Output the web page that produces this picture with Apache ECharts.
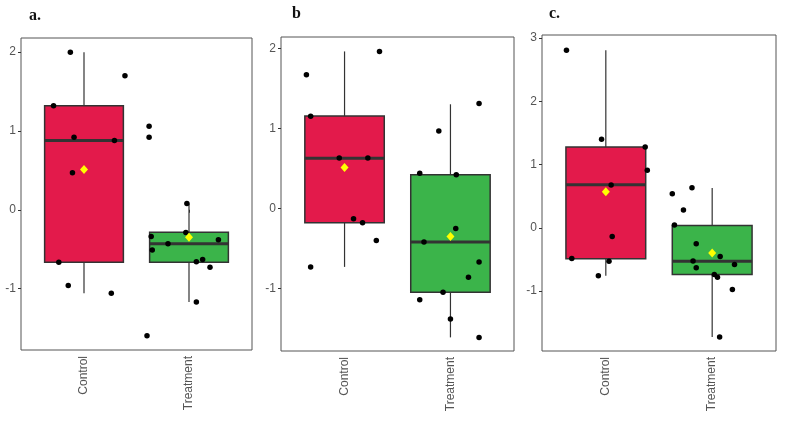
<!DOCTYPE html>
<html>
<head>
<meta charset="utf-8">
<script src="https://cdn.jsdelivr.net/npm/echarts@6/dist/echarts.min.js"></script>
<style>
  html, body { margin: 0; padding: 0; background: #fff; }
  #chart { width: 786px; height: 421px; }
</style>
</head>
<body>
<div id="chart"></div>
<script>
const categories = ['Control', 'Treatment'];
const panelLabels = ['a.', 'b', 'c.'];

// box stats per group: [lower whisker, Q1, median, Q3, upper whisker]
const boxA = [[-1.06, -0.665, 0.88, 1.32, 2.0], [-1.17, -0.665, -0.43, -0.285, 0.08]];
const boxB = [[-0.73, -0.18, 0.625, 1.153, 1.96], [-1.61, -1.045, -0.42, 0.42, 1.30]];
const boxC = [[-0.76, -0.49, 0.68, 1.276, 2.81], [-1.73, -0.738, -0.53, 0.037, 0.63]];

// group means (yellow diamonds)
const meanA = [0.51, -0.35];
const meanB = [0.51, -0.35];
const meanC = [0.57, -0.40];

// raw observations and their horizontal jitter (category units)
const ctrlA = [2.0, 1.70, 1.32, 0.92, 0.88, 0.47, -0.665, -0.96, -1.06];
const ctrlAJit = [-0.13, 0.39, -0.29, -0.095, 0.29, -0.11, -0.24, -0.15, 0.26];
const trtA = [1.06, 0.92, 0.08, -0.29, -0.34, -0.38, -0.43, -0.51, -0.63, -0.66, -0.73, -1.17, -1.60];
const trtAJit = [-0.38, -0.38, -0.02, -0.03, -0.36, 0.28, -0.20, -0.35, 0.13, 0.07, 0.20, 0.07, -0.40];

const ctrlB = [1.96, 1.67, 1.15, 0.63, 0.63, -0.13, -0.18, -0.40, -0.73];
const ctrlBJit = [0.33, -0.36, -0.32, -0.05, 0.22, 0.085, 0.17, 0.30, -0.32];
const trtB = [1.31, 0.965, 0.44, 0.42, -0.25, -0.42, -0.67, -0.86, -1.045, -1.14, -1.38, -1.61];
const trtBJit = [0.27, -0.11, -0.29, 0.055, 0.05, -0.25, 0.27, 0.17, -0.07, -0.29, 0.0, 0.27];

const ctrlC = [2.81, 1.40, 1.276, 0.91, 0.675, -0.137, -0.485, -0.53, -0.76];
const ctrlCJit = [-0.37, -0.04, 0.37, 0.39, 0.05, 0.06, -0.32, 0.03, -0.07];
const trtC = [0.633, 0.54, 0.28, 0.042, -0.253, -0.453, -0.527, -0.58, -0.633, -0.738, -0.785, -0.975, -1.73];
const trtCJit = [-0.19, -0.375, -0.27, -0.355, -0.15, 0.075, -0.18, 0.21, -0.15, 0.02, 0.05, 0.19, 0.07];

const yRanges = [[-1.78, 2.18], [-1.78, 2.14], [-1.95, 3.05]];
const yTicks = [[-1, 0, 1, 2], [-1, 0, 1, 2], [-1, 0, 1, 2, 3]];

const panels = [
  { box: boxA, mean: meanA, groups: [[ctrlA, ctrlAJit], [trtA, trtAJit]] },
  { box: boxB, mean: meanB, groups: [[ctrlB, ctrlBJit], [trtB, trtBJit]] },
  { box: boxC, mean: meanC, groups: [[ctrlC, ctrlCJit], [trtC, trtCJit]] }
];

const grids = [
  { left: 21, top: 38, width: 231, height: 312 },
  { left: 281, top: 37, width: 233, height: 314 },
  { left: 542, top: 35, width: 234, height: 316 }
];
const labelPos = [[29, 8], [292, 6], [549, 6]];

const boxColors = ['#e31a4b', '#3bb44a'];
const textGrey = '#555';

const chart = echarts.init(document.getElementById('chart'), null, { renderer: 'canvas' });

const xAxes = [], yAxes = [], series = [], graphics = [];

grids.forEach((g, i) => {
  g.show = true;
  g.borderColor = '#555';
  g.borderWidth = 1;
  g.backgroundColor = '#fff';

  xAxes.push({
    type: 'value', gridIndex: i, min: 0.4, max: 2.6,
    splitLine: { show: false },
    axisLine: { show: false },
    axisTick: { show: true, customValues: [1, 2], length: 3, lineStyle: { color: '#333' } },
    axisLabel: {
      customValues: [1, 2], rotate: 90, margin: 6,
      color: textGrey, fontSize: 12, fontFamily: 'Liberation Sans',
      formatter: v => categories[Math.round(v) - 1]
    }
  });
  yAxes.push({
    type: 'value', gridIndex: i, min: yRanges[i][0], max: yRanges[i][1],
    splitLine: { show: false },
    axisLine: { show: false },
    axisTick: { show: true, customValues: yTicks[i], length: 3, lineStyle: { color: '#333' } },
    axisLabel: {
      customValues: yTicks[i], margin: 5,
      color: textGrey, fontSize: 12, fontFamily: 'Liberation Sans'
    }
  });

  const p = panels[i];

  // boxes with whiskers
  series.push({
    type: 'custom', xAxisIndex: i, yAxisIndex: i, z: 2,
    data: p.box.map((b, k) => [k + 1].concat(b)),
    renderItem: (params, api) => {
      const x = api.value(0);
      const low = api.coord([x, api.value(1)]);
      const q1 = api.coord([x - 0.375, api.value(2)]);
      const med = api.value(3);
      const q3 = api.coord([x + 0.375, api.value(4)]);
      const high = api.coord([x, api.value(5)]);
      const mL = api.coord([x - 0.375, med]);
      const mR = api.coord([x + 0.375, med]);
      const dark = '#333';
      return {
        type: 'group',
        children: [
          { type: 'line', shape: { x1: low[0], y1: low[1], x2: low[0], y2: q1[1] }, style: { stroke: dark, lineWidth: 1.2 } },
          { type: 'line', shape: { x1: high[0], y1: high[1], x2: high[0], y2: q3[1] }, style: { stroke: dark, lineWidth: 1.2 } },
          { type: 'rect', shape: { x: q1[0], y: q3[1], width: q3[0] - q1[0], height: q1[1] - q3[1] },
            style: { fill: boxColors[params.dataIndex], stroke: dark, lineWidth: 1.5 } },
          { type: 'line', shape: { x1: mL[0], y1: mL[1], x2: mR[0], y2: mR[1] }, style: { stroke: dark, lineWidth: 3 } }
        ]
      };
    }
  });

  // jittered observations
  const pts = [];
  p.groups.forEach((grp, k) => {
    grp[0].forEach((v, j) => pts.push([k + 1 + grp[1][j], v]));
  });
  series.push({
    type: 'scatter', xAxisIndex: i, yAxisIndex: i, z: 3,
    symbol: 'circle', symbolSize: 5.5,
    itemStyle: { color: '#000', opacity: 1 },
    data: pts
  });

  // means
  series.push({
    type: 'scatter', xAxisIndex: i, yAxisIndex: i, z: 4,
    symbol: 'diamond', symbolSize: [8, 9],
    itemStyle: { color: '#ffff00', opacity: 1 },
    data: p.mean.map((m, k) => [k + 1, m])
  });

  graphics.push({
    type: 'text', left: labelPos[i][0], top: labelPos[i][1],
    style: { text: panelLabels[i], font: 'bold 16px "Liberation Serif"', fill: '#111' }
  });
});

chart.setOption({
  animation: false,
  backgroundColor: '#fff',
  grid: grids,
  xAxis: xAxes,
  yAxis: yAxes,
  series: series,
  graphic: graphics
});
</script>
</body>
</html>
